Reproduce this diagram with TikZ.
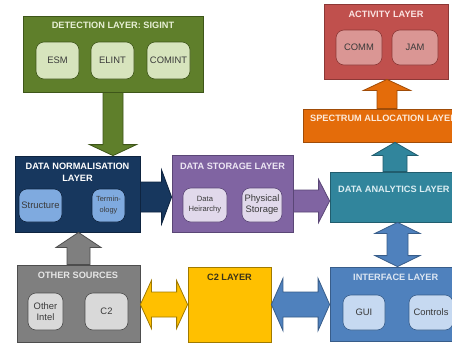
\documentclass[tikz,border=0pt]{standalone}
\usepackage{fontspec}
\setmainfont{Liberation Sans}
\usetikzlibrary{calc}

% palette
\definecolor{detfill}{HTML}{5F7F2B}
\definecolor{detline}{HTML}{3E5619}
\definecolor{detin}{HTML}{D7E4BD}
\definecolor{dettxt}{HTML}{E8F0D6}
\definecolor{actfill}{HTML}{C0504D}
\definecolor{actline}{HTML}{8C3836}
\definecolor{actin}{HTML}{DA9694}
\definecolor{acttxt}{HTML}{FBE4E3}
\definecolor{specfill}{HTML}{E46C0A}
\definecolor{specline}{HTML}{A04C08}
\definecolor{spectxt}{HTML}{FDE9D9}
\definecolor{normfill}{HTML}{17375E}
\definecolor{normline}{HTML}{0E2440}
\definecolor{normin}{HTML}{7FAADF}
\definecolor{storfill}{HTML}{8064A2}
\definecolor{storline}{HTML}{5A4676}
\definecolor{storin}{HTML}{E1D9EB}
\definecolor{stortxt}{HTML}{EDE7F4}
\definecolor{anafill}{HTML}{31859C}
\definecolor{analine}{HTML}{215D6E}
\definecolor{anatxt}{HTML}{DBEEF3}
\definecolor{intfill}{HTML}{4F81BD}
\definecolor{intline}{HTML}{385D8A}
\definecolor{intin}{HTML}{C6D9F1}
\definecolor{inttxt}{HTML}{DCE6F2}
\definecolor{c2fill}{HTML}{FFC000}
\definecolor{c2line}{HTML}{A07A00}
\definecolor{c2txt}{HTML}{3A3418}
\definecolor{othfill}{HTML}{7F7F7F}
\definecolor{othline}{HTML}{4D4D4D}
\definecolor{othin}{HTML}{D9D9D9}
\definecolor{othtxt}{HTML}{E6E6E6}
\definecolor{bodytxt}{HTML}{3A3A3A}

% vertical block arrow: start, tip, shaft half width, head half width, head length, style
\newcommand\vblock[6]{%
  \draw[#6] let \p1=(#1), \p2=(#2), \n1={sign(\y2-\y1)} in
    ({\x1-#3pt},\y1) -- ({\x1-#3pt},{\y2-(\n1)*#5pt}) -- ({\x1-#4pt},{\y2-(\n1)*#5pt}) -- (\x1,\y2)
    -- ({\x1+#4pt},{\y2-(\n1)*#5pt}) -- ({\x1+#3pt},{\y2-(\n1)*#5pt}) -- ({\x1+#3pt},\y1) -- cycle;}
% horizontal block arrow
\newcommand\hblock[6]{%
  \draw[#6] let \p1=(#1), \p2=(#2), \n1={sign(\x2-\x1)} in
    (\x1,{\y1-#3pt}) -- ({\x2-(\n1)*#5pt},{\y1-#3pt}) -- ({\x2-(\n1)*#5pt},{\y1-#4pt}) -- (\x2,\y1)
    -- ({\x2-(\n1)*#5pt},{\y1+#4pt}) -- ({\x2-(\n1)*#5pt},{\y1+#3pt}) -- (\x1,{\y1+#3pt}) -- cycle;}
% vertical double-headed block arrow
\newcommand\vdouble[6]{%
  \draw[#6] let \p1=(#1), \p2=(#2), \n1={sign(\y2-\y1)} in
    (\x1,\y1) -- ({\x1+#4pt},{\y1+(\n1)*#5pt}) -- ({\x1+#3pt},{\y1+(\n1)*#5pt})
    -- ({\x1+#3pt},{\y2-(\n1)*#5pt}) -- ({\x1+#4pt},{\y2-(\n1)*#5pt}) -- (\x1,\y2)
    -- ({\x1-#4pt},{\y2-(\n1)*#5pt}) -- ({\x1-#3pt},{\y2-(\n1)*#5pt})
    -- ({\x1-#3pt},{\y1+(\n1)*#5pt}) -- ({\x1-#4pt},{\y1+(\n1)*#5pt}) -- cycle;}
% horizontal double-headed block arrow
\newcommand\hdouble[6]{%
  \draw[#6] let \p1=(#1), \p2=(#2), \n1={sign(\x2-\x1)} in
    (\x1,\y1) -- ({\x1+(\n1)*#5pt},{\y1+#4pt}) -- ({\x1+(\n1)*#5pt},{\y1+#3pt})
    -- ({\x2-(\n1)*#5pt},{\y1+#3pt}) -- ({\x2-(\n1)*#5pt},{\y1+#4pt}) -- (\x2,\y1)
    -- ({\x2-(\n1)*#5pt},{\y1-#4pt}) -- ({\x2-(\n1)*#5pt},{\y1-#3pt})
    -- ({\x1+(\n1)*#5pt},{\y1-#3pt}) -- ({\x1+(\n1)*#5pt},{\y1-#4pt}) -- cycle;}

\tikzset{
  layer/.style={draw, line width=0.8pt, inner sep=0pt},
  inbox/.style={draw, line width=0.6pt, rounded corners=8pt, inner sep=0pt,
    align=center, text=bodytxt, font=\fontsize{9.4}{11}\selectfont},
  ttl/.style={inner sep=0pt, align=center, font=\bfseries\fontsize{9.2}{12}\selectfont},
  blk/.style={line width=0.8pt, line join=miter},
}

\begin{document}
\begin{tikzpicture}[x=1pt,y=-1pt]
\clip (0,0) rectangle (452,343);
\fill[white] (0,0) rectangle (452,343);

% ---- detection layer
\node[layer, fill=detfill, draw=detline, minimum width=180pt, minimum height=76pt] (det) at (113,54) {};
\node[ttl, text=dettxt] (detT) at (113,25) {DETECTION LAYER: SIGINT};
\node[inbox, fill=detin, draw=detline, minimum width=43pt, minimum height=37pt] (esm) at (57.5,60.5) {ESM};
\node[inbox, fill=detin, draw=detline, minimum width=43pt, minimum height=37pt] (elint) at (112.5,60.5) {ELINT};
\node[inbox, fill=detin, draw=detline, minimum width=43pt, minimum height=37pt] (comint) at (168.5,60.5) {COMINT};

% ---- activity layer
\node[layer, fill=actfill, draw=actline, minimum width=124pt, minimum height=75pt] (act) at (386,41.5) {};
\node[ttl, text=acttxt] (actT) at (386,14) {ACTIVITY LAYER};
\node[inbox, fill=actin, draw=actline, minimum width=46pt, minimum height=35pt] (comm) at (359,47.5) {COMM};
\node[inbox, fill=actin, draw=actline, minimum width=46pt, minimum height=35pt] (jam) at (415,47.5) {JAM};

% ---- spectrum allocation layer (runs past the right edge)
\node[layer, fill=specfill, draw=specline, minimum width=172pt, minimum height=33pt] (spec) at (389,125.5) {};
\node[ttl, text=spectxt, anchor=west] (specT) at (310,118) {SPECTRUM ALLOCATION LAYER};

% ---- data normalisation layer
\node[layer, fill=normfill, draw=normline, minimum width=125pt, minimum height=76pt] (norm) at (77.5,194) {};
\node[ttl, text=white] (normT) at (77.5,172) {DATA NORMALISATION\\LAYER};
\node[inbox, fill=normin, draw=normline, minimum width=43pt, minimum height=33pt] (struct) at (40.5,205.5) {Structure};
\node[inbox, fill=normin, draw=normline, minimum width=33pt, minimum height=33pt,
  font=\fontsize{7.4}{11}\selectfont] (term) at (108.5,205.5) {Termin-\\ology};

% ---- data storage layer
\node[layer, fill=storfill, draw=storline, minimum width=121pt, minimum height=77pt] (stor) at (232.5,193.5) {};
\node[ttl, text=stortxt] (storT) at (232.5,166) {DATA STORAGE LAYER};
\node[inbox, fill=storin, draw=storline, minimum width=44pt, minimum height=34pt,
  font=\fontsize{7.6}{10}\selectfont] (dhier) at (205,205) {Data\\Heirarchy};
\node[inbox, fill=storin, draw=storline, minimum width=40pt, minimum height=34pt] (phys) at (262,205) {Physical\\Storage};

% ---- data analytics layer
\node[layer, fill=anafill, draw=analine, minimum width=145pt, minimum height=50pt] (ana) at (402.5,197) {};
\node[ttl, text=anatxt, anchor=west] (anaT) at (338,189) {DATA ANALYTICS LAYER};

% ---- interface layer
\node[layer, fill=intfill, draw=intline, minimum width=145pt, minimum height=74pt] (int) at (402.5,304) {};
\node[ttl, text=inttxt, anchor=west] (intT) at (353,277) {INTERFACE LAYER};
\node[inbox, fill=intin, draw=intline, minimum width=42pt, minimum height=35pt] (gui) at (364,312.5) {GUI};
\node[inbox, fill=intin, draw=intline, minimum width=44pt, minimum height=35pt] (ctrl) at (431,312.5) {Controls};

% ---- C2 layer
\node[layer, fill=c2fill, draw=c2line, minimum width=83pt, minimum height=75pt] (c2) at (229.5,304.5) {};
\node[ttl, text=c2txt] (c2T) at (229.5,277) {C2 LAYER};

% ---- other sources
\node[layer, fill=othfill, draw=othline, minimum width=123pt, minimum height=77pt] (oth) at (78.5,303.5) {};
\node[ttl, text=othtxt] (othT) at (78,275) {OTHER SOURCES};
\node[inbox, fill=othin, draw=othline, minimum width=35pt, minimum height=37pt] (ointel) at (45.5,311.5) {Other\\Intel};
\node[inbox, fill=othin, draw=othline, minimum width=43pt, minimum height=37pt] (oc2) at (106.5,311.5) {C2};

% ---- connectors (block arrows)
\vblock{det.south}{det.south |- norm.north}{10}{23.5}{11}{blk, fill=detfill, draw=detline}
\vblock{oth.north}{oth.north |- norm.south}{11.5}{22.5}{15}{blk, fill=othfill, draw=othline}

\coordinate (ns) at ([yshift=-3pt]norm.east);
\hblock{ns}{stor.west |- ns}{15}{27}{10}{blk, fill=normfill, draw=normline}

\coordinate (sa) at ([yshift=-7.5pt]stor.east);
\hblock{sa}{ana.west |- sa}{11}{21.5}{11}{blk, fill=storfill, draw=storline}

\coordinate (as) at ([xshift=-7.5pt]ana.north);
\vblock{as}{spec.south -| as}{12}{22.5}{13}{blk, fill=anafill, draw=analine}

\coordinate (sp) at ([xshift=-2pt]spec.north);
\vblock{sp}{act.south -| sp}{10}{23.5}{11}{blk, fill=specfill, draw=specline}

\coordinate (ai) at ([xshift=-5pt]ana.south);
\vdouble{ai}{int.north -| ai}{10.5}{22.5}{11}{blk, fill=intfill, draw=intline}

\hdouble{c2.east}{int.west |- c2.east}{12.5}{26}{11.5}{blk, fill=intfill, draw=intline}
\hdouble{oth.east |- c2.west}{c2.west}{12.5}{24}{11}{blk, fill=c2fill, draw=c2line}
\end{tikzpicture}
\end{document}
